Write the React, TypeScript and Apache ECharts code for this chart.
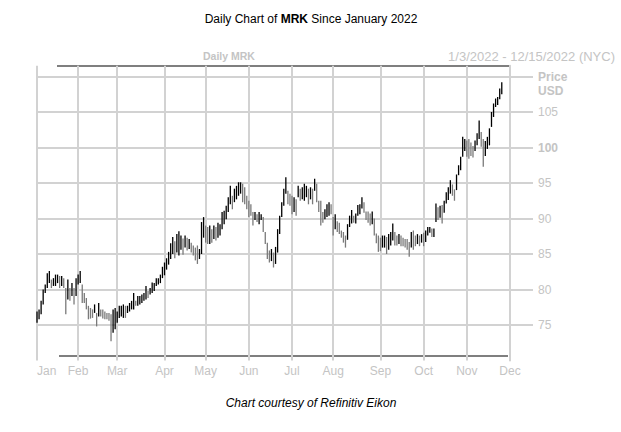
import React, { useEffect, useRef } from "react";
import * as echarts from "echarts";

// ---- data ----
const monthNames = ["Jan", "Feb", "Mar", "Apr", "May", "Jun", "Jul", "Aug", "Sep", "Oct", "Nov", "Dec"];
const tradingDays = [20, 19, 23, 20, 21, 21, 20, 23, 21, 21, 21, 1];

const lows = [
  // Jan
  75.3, 75.8, 76.5, 77.9, 79.5, 80.2, 80.9, 80.2, 80.5, 80.5, 80.9, 80.2, 80.5, 80.2, 76.5, 78.6, 78.4, 79.1, 77.9, 79.1,
  // Feb
  80.7, 80.9, 78.1, 78.1, 77.2, 75.8, 75.9, 76.0, 76.7, 74.8, 76.2, 76.2, 75.9, 75.8, 75.8, 75.6, 72.7, 73.9, 74.4,
  // Mar
  75.3, 76.0, 76.2, 76.0, 76.0, 76.7, 76.9, 77.2, 77.2, 77.7, 77.7, 77.9, 78.1, 78.4, 78.6, 78.8, 79.3, 79.5, 79.8, 80.5, 80.7, 80.9, 81.6,
  // Apr
  82.0, 82.8, 83.5, 84.3, 85.0, 84.4, 85.2, 84.8, 85.6, 84.9, 85.9, 85.5, 85.7, 85.2, 84.8, 84.1, 83.6, 84.3, 85.0, 87.3,
  // May
  86.6, 86.4, 86.4, 86.6, 87.1, 86.9, 87.3, 87.6, 88.5, 89.2, 89.9, 90.9, 92.0, 91.3, 92.3, 92.7, 93.2, 93.5, 92.3, 92.0, 91.3,
  // Jun
  90.2, 90.4, 89.0, 89.8, 89.5, 89.2, 89.8, 88.1, 86.4, 84.3, 83.8, 84.0, 83.1, 83.6, 85.2, 87.8, 90.2, 91.8, 93.5, 92.0, 91.8,
  // Jul
  90.6, 90.9, 90.4, 93.0, 92.5, 92.7, 92.5, 93.0, 92.0, 92.7, 92.0, 93.9, 92.3, 90.9, 89.0, 89.4, 89.9, 90.2, 90.4, 90.6,
  // Aug
  87.6, 88.5, 88.1, 87.8, 87.3, 86.6, 85.9, 87.0, 88.8, 89.3, 89.4, 89.3, 90.4, 90.6, 91.4, 90.8, 89.8, 89.4, 89.0, 89.2, 87.6, 86.5, 85.3,
  // Sep
  85.4, 85.9, 85.9, 85.0, 85.6, 86.2, 86.9, 86.2, 86.2, 86.4, 86.1, 86.1, 85.9, 85.6, 84.6, 85.9, 85.6, 86.1, 86.4, 86.1, 86.6,
  // Oct
  86.1, 86.7, 87.6, 88.0, 87.4, 87.4, 89.5, 89.8, 90.1, 89.3, 90.8, 92.1, 92.6, 93.5, 93.2, 92.5, 94.0, 96.1, 96.8, 98.7, 99.5,
  // Nov
  98.7, 98.4, 98.8, 98.6, 99.5, 100.3, 101.2, 100.1, 97.3, 98.8, 99.8, 100.3, 102.9, 104.3, 105.7, 106.0, 106.8, 107.5,
];

const highs = [
  // Jan
  76.9, 77.2, 78.4, 80.0, 80.7, 82.3, 82.6, 81.4, 81.6, 82.1, 82.1, 81.9, 81.9, 81.6, 80.2, 81.4, 80.2, 80.9, 80.2, 81.6,
  // Feb
  82.1, 82.6, 80.7, 79.5, 78.8, 77.7, 77.4, 77.2, 77.9, 76.7, 78.1, 77.2, 77.2, 76.9, 76.7, 76.7, 76.5, 77.2, 77.4,
  // Mar
  76.9, 77.7, 77.7, 77.9, 77.7, 77.7, 78.1, 78.4, 79.5, 78.4, 79.1, 79.1, 79.3, 79.5, 80.5, 79.8, 80.2, 81.0, 80.9, 81.6, 81.6, 82.1, 83.2,
  // Apr
  83.8, 84.4, 85.3, 86.5, 87.4, 86.8, 87.8, 88.2, 87.6, 87.2, 87.6, 87.3, 87.1, 86.6, 86.2, 85.9, 86.2, 85.7, 89.5, 90.2,
  // May
  89.0, 88.8, 89.0, 88.5, 89.0, 88.8, 89.4, 89.2, 90.9, 91.1, 91.8, 93.0, 94.6, 93.2, 94.2, 94.6, 95.1, 95.1, 94.9, 94.4, 93.2,
  // Jun
  92.5, 92.0, 90.9, 90.9, 90.6, 90.9, 90.6, 90.2, 88.1, 86.6, 85.5, 85.7, 85.2, 86.0, 88.5, 90.4, 92.3, 94.2, 95.8, 93.9, 93.5,
  // Jul
  93.2, 93.0, 92.7, 94.6, 94.2, 94.4, 94.9, 94.6, 94.2, 94.4, 94.2, 95.6, 94.9, 92.5, 92.5, 90.9, 91.3, 92.0, 92.3, 92.0,
  // Aug
  90.2, 90.6, 89.6, 89.4, 88.3, 88.1, 87.6, 89.2, 90.4, 91.2, 90.4, 90.7, 91.9, 92.0, 93.0, 92.3, 91.0, 91.0, 90.7, 91.0, 90.0, 87.9, 87.6,
  // Sep
  87.3, 87.6, 87.6, 87.4, 87.8, 88.1, 89.3, 88.1, 87.6, 87.8, 87.6, 87.3, 87.1, 87.1, 86.7, 88.1, 88.3, 87.6, 87.8, 87.6, 87.8,
  // Oct
  88.0, 88.3, 88.8, 88.8, 88.6, 88.6, 92.1, 91.6, 91.8, 91.9, 92.5, 93.7, 94.4, 95.4, 94.8, 94.1, 96.2, 97.5, 98.7, 101.5, 101.2,
  // Nov
  101.0, 101.2, 100.7, 100.2, 101.0, 102.0, 103.8, 102.2, 101.2, 100.9, 101.5, 102.7, 105.0, 106.2, 106.9, 107.1, 108.3, 109.2,
];

const yTicks = [75, 80, 85, 90, 95, 100, 105, 110];

// ---- component ----
export default function App() {
  const ref = useRef<HTMLDivElement>(null);

  useEffect(() => {
    if (!ref.current) return;
    const chart = echarts.init(ref.current, undefined, { renderer: "svg" });

    const categories: string[] = [];
    const monthStart = new Set<number>();
    tradingDays.forEach((n, m) => {
      monthStart.add(categories.length);
      for (let d = 1; d <= n; d++) categories.push(monthNames[m] + " " + d);
    });

    const data = lows.map((lo, i) => {
      const mid = (lo + highs[i]) / 2;
      const prevMid = i > 0 ? (lows[i - 1] + highs[i - 1]) / 2 : mid;
      return [i, lo, highs[i], mid >= prevMid ? 1 : 0];
    });

    const gray = "#c4c4c4";
    const grid = "#d2d2d2";
    const font = "'Liberation Sans', Arial, sans-serif";
    const isStart = (idx: number) => monthStart.has(idx);

    chart.setOption({
      animation: false,
      backgroundColor: "#ffffff",
      grid: { left: 37, right: 111, top: 65.85, bottom: 71.5 },
      xAxis: {
        type: "category",
        data: categories,
        boundaryGap: false,
        axisLine: { show: false },
        axisTick: { show: false },
        axisLabel: {
          interval: isStart,
          formatter: (v: string) => v.split(" ")[0],
          color: gray,
          fontSize: 12,
          fontFamily: font,
          margin: 4,
          alignMinLabel: "left",
        },
        splitLine: { show: true, interval: isStart, lineStyle: { color: grid, width: 2 } },
      },
      yAxis: {
        type: "value",
        position: "right",
        min: 70,
        max: 111.5,
        interval: 5,
        axisLine: { show: true, lineStyle: { color: grid, width: 2 } },
        axisTick: { show: true, length: 23, customValues: yTicks, lineStyle: { color: grid, width: 2 } },
        axisLabel: {
          customValues: yTicks,
          margin: 28,
          color: gray,
          fontSize: 12,
          fontFamily: font,
          formatter: (v: number) => (v === 110 ? "{b|Price}" : v === 100 ? "{b|100}" : String(v)),
          rich: { b: { fontWeight: "bold", color: gray, fontSize: 12, fontFamily: font } },
        },
        splitLine: { show: true, lineStyle: { color: grid, width: 2 } },
      },
      series: [
        {
          type: "custom",
          encode: { x: 0, y: [1, 2] },
          data,
          renderItem: (params: any, api: any) => {
            const i = api.value(0);
            const top = api.coord([i, api.value(2)]);
            const bot = api.coord([i, api.value(1)]);
            return {
              type: "rect",
              shape: { x: top[0] - 0.65, y: top[1], width: 1.3, height: Math.max(1, bot[1] - top[1]) },
              style: { fill: api.value(3) ? "#000000" : "#7a7a7a" },
            };
          },
        },
      ],
      graphic: [
        {
          type: "text",
          x: 311,
          y: 19,
          style: {
            text: "{n|Daily Chart of }{b|MRK}{n| Since January 2022}",
            align: "center",
            verticalAlign: "middle",
            rich: {
              n: { fontSize: 12, fontFamily: font, fill: "#000" },
              b: { fontSize: 12, fontFamily: font, fontWeight: "bold", fill: "#000" },
            },
          },
        },
        {
          type: "text",
          x: 229,
          y: 56,
          style: { text: "Daily MRK", align: "center", verticalAlign: "middle", fontSize: 10.5, fontWeight: "bold", fontFamily: font, fill: gray },
        },
        {
          type: "text",
          x: 615,
          y: 56,
          style: { text: "1/3/2022 - 12/15/2022 (NYC)", align: "right", verticalAlign: "middle", fontSize: 13, fontFamily: font, fill: gray },
        },
        {
          type: "text",
          x: 538,
          y: 91,
          style: { text: "USD", align: "left", verticalAlign: "middle", fontSize: 12, fontWeight: "bold", fontFamily: font, fill: gray },
        },
        { type: "line", shape: { x1: 57, y1: 66, x2: 510, y2: 66 }, style: { stroke: "#7f7f7f", lineWidth: 2 } },
        { type: "line", shape: { x1: 59, y1: 356, x2: 508, y2: 356 }, style: { stroke: "#7f7f7f", lineWidth: 2 } },
        {
          type: "text",
          x: 311,
          y: 403,
          style: { text: "Chart courtesy of Refinitiv Eikon", align: "center", verticalAlign: "middle", fontSize: 12, fontStyle: "italic", fontFamily: font, fill: "#000" },
        },
      ],
    });

    return () => chart.dispose();
  }, []);

  return <div ref={ref} style={{ position: "absolute", left: 0, top: 0, width: 621, height: 432 }} />;
}
